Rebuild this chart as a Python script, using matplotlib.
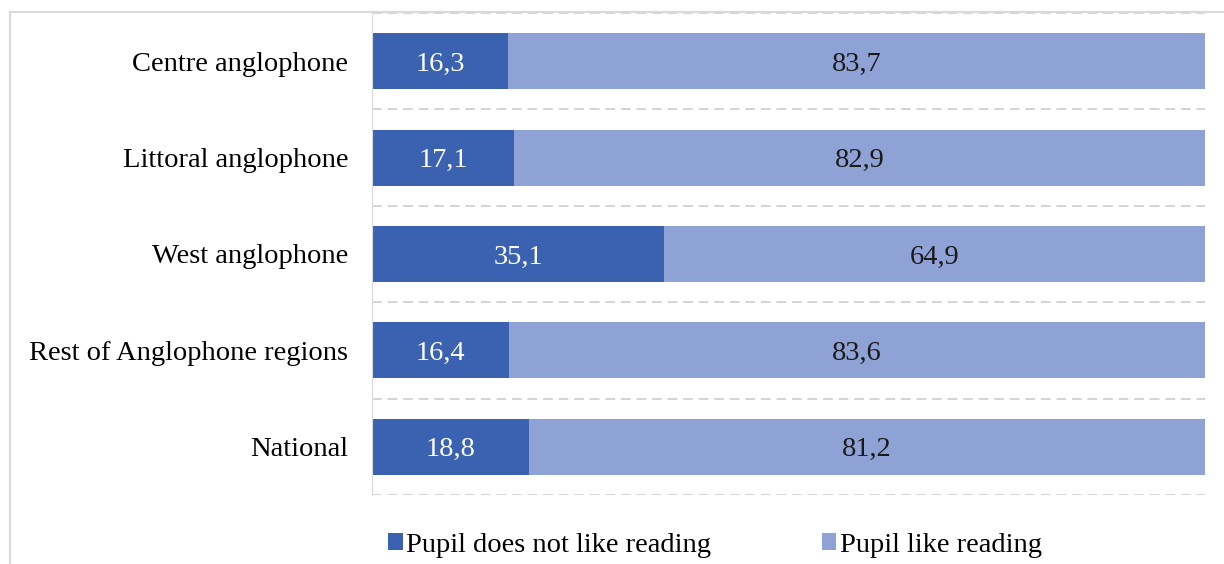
import numpy as np
import matplotlib.pyplot as plt
from matplotlib.patches import Rectangle

plt.rcParams['font.family'] = ['Liberation Serif', 'DejaVu Serif']

categories = ["Centre anglophone", "Littoral anglophone", "West anglophone",
              "Rest of Anglophone regions", "National"]
not_like = [16.3, 17.1, 35.1, 16.4, 18.8]
like = [83.7, 82.9, 64.9, 83.6, 81.2]
series_names = ["Pupil does not like reading", "Pupil like reading"]

dark = '#3a62b0'
light = '#8fa2d5'
fs = 20.5

fig = plt.figure(figsize=(12.24, 5.64), dpi=100)
ax = fig.add_axes([372 / 1224, 1 - 495 / 564, (1205 - 372) / 1224, (495 - 13) / 564])

y = np.arange(len(categories))
b1 = ax.barh(y, not_like, height=0.58, color=dark, label=series_names[0])
b2 = ax.barh(y, like, left=not_like, height=0.58, color=light, label=series_names[1])

for bars, vals, lefts in [(b1, not_like, [0] * 5), (b2, like, not_like)]:
    for yi, v, l in zip(y, vals, lefts):
        txt = f"{v:.1f}".replace('.', ',')
        ax.text(l + v / 2, yi, txt, ha='center', va='center_baseline',
                color='white' if bars is b1 else '#1a1a1a', fontsize=fs)

ax.set_xlim(0, 100)
ax.set_ylim(4.5, -0.5)
ax.set_yticks(y)
ax.set_yticklabels(categories, fontsize=fs)
ax.tick_params(axis='y', length=0, pad=17)
ax.set_xticks([])
ax.set_yticks(np.arange(-0.5, 5, 1), minor=True)
ax.tick_params(axis='y', which='minor', length=0)
ax.grid(True, axis='y', which='minor', color='#d4d4d4', linestyle=(0, (5, 3)), linewidth=1.4)
ax.set_axisbelow(True)
for s in ['top', 'right', 'bottom']:
    ax.spines[s].set_visible(False)
ax.spines['left'].set_color('#d9d9d9')

fig.legend(handles=[b1, b2], loc='center', bbox_to_anchor=(715 / 1224, 1 - 545 / 564),
           ncol=2, frameon=False, fontsize=fs, handlelength=0.5, handleheight=0.5,
           handletextpad=0.12, columnspacing=3.9)

fig.patches.append(Rectangle((10 / 1224, -0.1), 1.2, 1.1 - 12 / 564, transform=fig.transFigure,
                             fill=False, edgecolor='#d9d9d9', linewidth=1.5))

fig.savefig('out.png', dpi=100)
